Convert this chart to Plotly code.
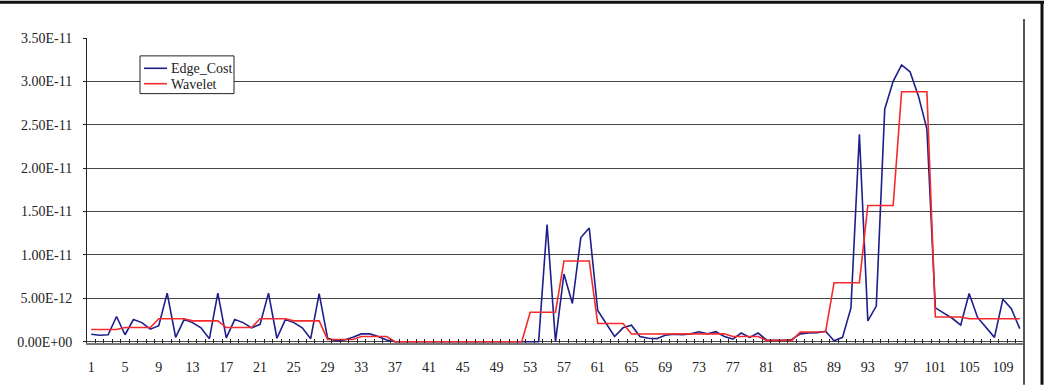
import plotly.graph_objects as go

# categories 1..111
categories = list(range(1, 112))

# Edge_Cost values (units of 1E-12)
edge_cost = [
    0.85, 0.75, 0.8, 2.9, 0.8, 2.55, 2.2, 1.45, 1.85, 5.6,      # 1-10
    0.5, 2.55, 2.2, 1.6, 0.35, 5.6, 0.45, 2.55, 2.2, 1.6,       # 11-20
    2.0, 5.6, 0.4, 2.55, 2.2, 1.6, 0.35, 5.55, 0.4, 0.1,        # 21-30
    0.2, 0.5, 0.9, 0.9, 0.6, 0.2, 0.0, 0.0, 0.0, 0.0,           # 31-40
    0.0, 0.0, 0.0, 0.0, 0.0, 0.0, 0.0, 0.0, 0.0, 0.0,           # 41-50
    0.0, 0.0, 0.0, 0.0, 13.5, 0.0, 7.8, 4.4, 12.0, 13.1,        # 51-60
    3.6, 2.1, 0.6, 1.6, 1.9, 0.6, 0.4, 0.35, 0.75, 0.85,        # 61-70
    0.8, 0.9, 1.15, 0.9, 1.15, 0.6, 0.3, 1.0, 0.5, 1.0,         # 71-80
    0.2, 0.15, 0.15, 0.25, 0.9, 1.0, 1.05, 1.2, 0.1, 0.5,       # 81-90
    3.9, 23.9, 2.4, 4.1, 26.8, 30.0, 31.9, 31.1, 28.3, 24.5,    # 91-100
    3.9, 3.3, 2.7, 1.9, 5.55, 2.8, 1.7, 0.5, 4.9, 3.8,          # 101-110
    1.5,                                                        # 111
]

# Wavelet values (units of 1E-12)
wavelet = [
    1.4, 1.4, 1.4, 1.4, 1.63, 1.63, 1.63, 1.63, 2.65, 2.65,     # 1-10
    2.65, 2.65, 2.4, 2.4, 2.4, 2.4, 1.63, 1.63, 1.63, 1.63,     # 11-20
    2.65, 2.65, 2.65, 2.65, 2.4, 2.4, 2.4, 2.4, 0.26, 0.26,     # 21-30
    0.26, 0.26, 0.6, 0.6, 0.6, 0.6, 0.0, 0.0, 0.0, 0.0,         # 31-40
    0.0, 0.0, 0.0, 0.0, 0.0, 0.0, 0.0, 0.0, 0.0, 0.0,           # 41-50
    0.0, 0.0, 3.4, 3.4, 3.4, 3.4, 9.3, 9.3, 9.3, 9.3,           # 51-60
    2.1, 2.1, 2.1, 2.1, 0.88, 0.88, 0.88, 0.88, 0.92, 0.92,     # 61-70
    0.92, 0.92, 0.92, 0.92, 0.92, 0.92, 0.6, 0.6, 0.6, 0.6,     # 71-80
    0.15, 0.15, 0.15, 0.15, 1.1, 1.1, 1.1, 1.15, 6.8, 6.8,      # 81-90
    6.8, 6.8, 15.7, 15.7, 15.7, 15.7, 28.8, 28.8, 28.8, 28.8,   # 91-100
    2.85, 2.85, 2.85, 2.85, 2.65, 2.65, 2.65, 2.65, 2.65, 2.65, # 101-110
    2.65,                                                       # 111
]

series_names = ["Edge_Cost", "Wavelet"]
series_colors = ["#1e1e8c", "#f52a2a"]

UNIT = 1e-12

x_tick_vals = list(range(1, 112, 4))
x_tick_text = [str(v) for v in x_tick_vals]

y_tick_vals = [0, 5e-12, 1e-11, 1.5e-11, 2e-11, 2.5e-11, 3e-11, 3.5e-11]
y_tick_text = ["0.00E+00", "5.00E-12", "1.00E-11", "1.50E-11",
               "2.00E-11", "2.50E-11", "3.00E-11", "3.50E-11"]

SERIF = "Liberation Serif"
TEXT = "#222222"

fig = go.Figure()
for name, vals, col in zip(series_names, [edge_cost, wavelet], series_colors):
    fig.add_trace(go.Scatter(
        x=categories, y=[v * UNIT for v in vals], name=name,
        mode="lines", line=dict(color=col, width=1.6), showlegend=False,
    ))

W, H = 1045, 387
L, R, T, B = 87, 21, 38, 42
pw, ph = W - L - R, H - T - B

def px(xpix):
    return (xpix - L) / pw

def py(ypix):
    return (H - B - ypix) / ph

shapes = [
    # right border of the chart area
    dict(type="line", xref="paper", yref="paper",
         x0=px(1024), x1=px(1024), y0=py(19), y1=py(H),
         line=dict(color="#555555", width=2)),
    # outer frame: top
    dict(type="line", xref="paper", yref="paper",
         x0=px(0), x1=px(1044), y0=py(2), y1=py(2),
         line=dict(color="#111111", width=3)),
    # outer frame: right
    dict(type="line", xref="paper", yref="paper",
         x0=px(1042), x1=px(1042), y0=py(2), y1=py(H),
         line=dict(color="#111111", width=3)),
    # legend box
    dict(type="rect", xref="paper", yref="paper",
         x0=px(140), x1=px(234), y0=py(94), y1=py(56),
         line=dict(color=TEXT, width=1), fillcolor="white", layer="above"),
]
annotations = []
legend_rows = [68.5, 84]
for name, col, yrow in zip(series_names, series_colors, legend_rows):
    shapes.append(dict(type="line", xref="paper", yref="paper",
                       x0=px(144), x1=px(167), y0=py(yrow), y1=py(yrow),
                       line=dict(color=col, width=1.6), layer="above"))
    annotations.append(dict(xref="paper", yref="paper", x=px(169), y=py(yrow + 0.5),
                            xanchor="left", yanchor="middle", showarrow=False,
                            text=name, font=dict(family=SERIF, size=14, color=TEXT)))

fig.update_layout(
    width=W, height=H,
    margin=dict(l=L, r=R, t=T, b=B, pad=0),
    paper_bgcolor="white", plot_bgcolor="white",
    font=dict(family=SERIF, size=14, color=TEXT),
    showlegend=False,
    xaxis=dict(
        range=[0.5, 111.5], tickmode="array",
        tickvals=x_tick_vals, ticktext=x_tick_text,
        ticks="", showgrid=False, zeroline=False,
        showline=True, linecolor="#777777", linewidth=1.5,
        ticklabelstandoff=10,
        minor=dict(tickmode="array", tickvals=[k + 0.5 for k in range(1, 111)],
                   ticks="inside", ticklen=4, tickcolor=TEXT,
                   tickwidth=1, showgrid=False),
    ),
    yaxis=dict(
        range=[-0.15e-12, 35e-12], tickmode="array",
        tickvals=y_tick_vals, ticktext=y_tick_text,
        ticks="outside", ticklen=3, tickcolor=TEXT,
        showgrid=True, gridcolor="#454545", gridwidth=1,
        zeroline=False, showline=True, linecolor=TEXT, linewidth=1,
        ticklabelstandoff=8,
    ),
    shapes=shapes,
    annotations=annotations,
)

fig.write_html("out.html")
